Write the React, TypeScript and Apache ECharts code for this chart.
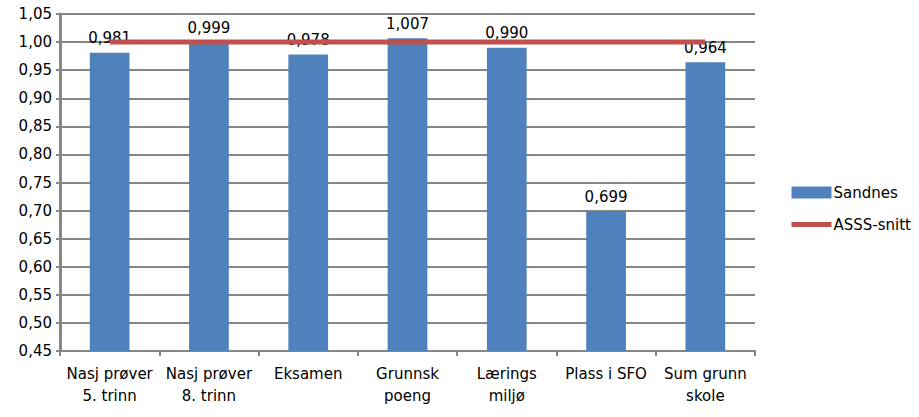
import React, { useEffect, useRef } from "react";
import * as echarts from "echarts";

const categories = [
  "Nasj prøver\n5. trinn",
  "Nasj prøver\n8. trinn",
  "Eksamen",
  "Grunnsk\npoeng",
  "Lærings\nmiljø",
  "Plass i SFO",
  "Sum grunn\nskole",
];
const sandnes = [0.981, 0.999, 0.978, 1.007, 0.99, 0.699, 0.964];
const asssSnitt = [1, 1, 1, 1, 1, 1, 1];
const yMin = 0.45;
const yMax = 1.05;
const yInterval = 0.05;

const FONT = "DejaVu Sans";

export default function App() {
  const ref = useRef<HTMLDivElement>(null);
  useEffect(() => {
    document.body.style.margin = "0";
    if (!ref.current) return;
    const chart = echarts.init(ref.current, undefined, { renderer: "svg" });
    chart.setOption({
      animation: false,
      textStyle: { fontFamily: FONT, color: "#000" },
      grid: { left: 60, top: 14, right: 164, bottom: 66, containLabel: false },
      legend: {
        orient: "vertical",
        left: 784,
        top: 180,
        itemWidth: 40,
        itemHeight: 12,
        itemGap: 17,
        textStyle: { fontFamily: FONT, fontSize: 15, color: "#000", padding: [0, 0, 0, -3] },
        data: [
          { name: "Sandnes", icon: "rect" },
          { name: "ASSS-snitt", itemStyle: { opacity: 0 }, lineStyle: { width: 5, color: "#C0504D" } },
        ],
      },
      xAxis: {
        type: "category",
        data: categories,
        boundaryGap: true,
        axisLine: { show: true, lineStyle: { color: "#868686", width: 2 } },
        axisTick: { show: true, length: 5, lineStyle: { color: "#868686", width: 2 } },
        axisLabel: {
          interval: 0,
          fontFamily: FONT,
          fontSize: 15,
          color: "#000",
          lineHeight: 22,
          margin: 12,
        },
        splitLine: { show: false },
      },
      yAxis: {
        type: "value",
        min: yMin,
        max: yMax,
        interval: yInterval,
        axisLine: { show: true, lineStyle: { color: "#868686", width: 3 } },
        axisTick: { show: true, length: 4, lineStyle: { color: "#868686", width: 2 } },
        axisLabel: {
          fontFamily: FONT,
          fontSize: 15,
          color: "#000",
          margin: 8,
          formatter: (v: number) => v.toFixed(2).replace(".", ","),
        },
        splitLine: { show: true, lineStyle: { color: "#868686", width: 2 } },
      },
      series: [
        {
          name: "Sandnes",
          type: "bar",
          data: sandnes,
          barWidth: "40%",
          itemStyle: { color: "#4F81BD" },
          z: 2,
          label: {
            show: true,
            position: "top",
            distance: 7,
            fontFamily: FONT,
            fontSize: 15,
            color: "#000",
            formatter: (p: any) => p.value.toFixed(3).replace(".", ","),
          },
        },
        {
          name: "ASSS-snitt",
          type: "line",
          data: asssSnitt,
          symbol: "none",
          lineStyle: { color: "#C0504D", width: 5 },
          itemStyle: { color: "#C0504D" },
          z: 3,
        },
      ],
    });
    return () => chart.dispose();
  }, []);
  return <div ref={ref} style={{ width: 919, height: 417 }} />;
}
